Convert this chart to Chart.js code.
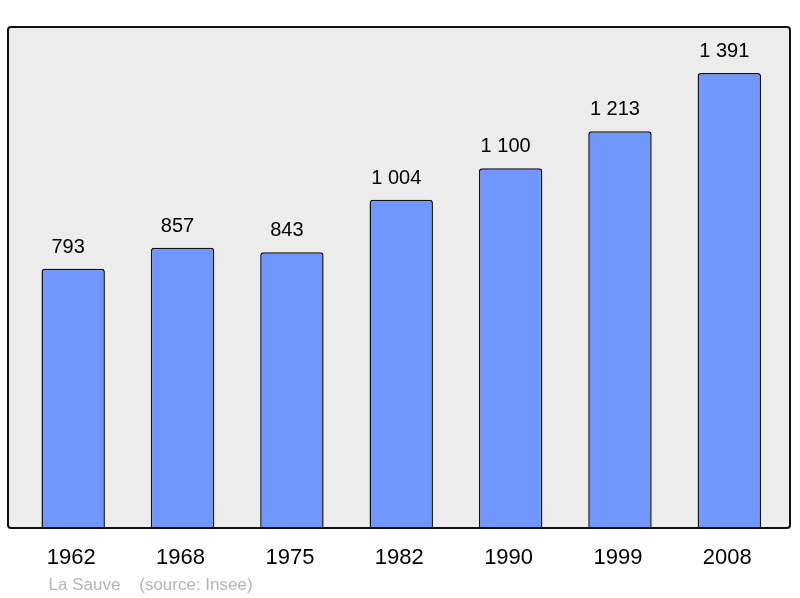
<!DOCTYPE html>
<html>
<head>
<meta charset="utf-8">
<script src="https://cdn.jsdelivr.net/npm/chart.js@4/dist/chart.umd.min.js"></script>
<style>
html,body{margin:0;padding:0;background:#fff;}
#wrap{width:800px;height:598px;position:relative;}
</style>
</head>
<body>
<div id="wrap"><canvas id="c" width="800" height="598"></canvas></div>
<script>
const years = ['1962','1968','1975','1982','1990','1999','2008'];
const population = [793, 857, 843, 1004, 1100, 1213, 1391];
const footerText = 'La Sauve    (source: Insee)';
const yMax = 1532;

function fmt(v){ return String(v).replace(/\B(?=(\d{3})+(?!\d))/g, ' '); }

function roundRect(ctx, x, y, w, h, r){
  ctx.beginPath();
  ctx.moveTo(x + r, y);
  ctx.lineTo(x + w - r, y);
  ctx.quadraticCurveTo(x + w, y, x + w, y + r);
  ctx.lineTo(x + w, y + h - r);
  ctx.quadraticCurveTo(x + w, y + h, x + w - r, y + h);
  ctx.lineTo(x + r, y + h);
  ctx.quadraticCurveTo(x, y + h, x, y + h - r);
  ctx.lineTo(x, y + r);
  ctx.quadraticCurveTo(x, y, x + r, y);
  ctx.closePath();
}

const framePlugin = {
  id: 'frame',
  beforeDatasetsDraw(chart){
    const {ctx, chartArea:a} = chart;
    ctx.save();
    roundRect(ctx, a.left - 10.5, a.top, a.right - a.left + 16.5, a.bottom - a.top, 3);
    ctx.fillStyle = '#ececec';
    ctx.fill();
    ctx.restore();
  },
  afterDatasetsDraw(chart){
    const {ctx, chartArea:a} = chart;
    ctx.save();
    roundRect(ctx, a.left - 10.5, a.top, a.right - a.left + 16.5, a.bottom - a.top, 3);
    ctx.lineWidth = 2;
    ctx.strokeStyle = '#111';
    ctx.stroke();
    // value labels
    const meta = chart.getDatasetMeta(0);
    ctx.fillStyle = '#000';
    ctx.font = '20px "Liberation Sans", Arial, sans-serif';
    ctx.textAlign = 'center';
    ctx.textBaseline = 'alphabetic';
    meta.data.forEach((bar, i) => {
      ctx.fillText(fmt(population[i]), bar.x - 5, bar.y - 16);
    });
    // category labels
    const xs = chart.scales.x;
    ctx.font = '22px "Liberation Sans", Arial, sans-serif';
    years.forEach((y, i) => {
      ctx.fillText(y, xs.getPixelForValue(i) - 2, a.bottom + 36);
    });
    // footer
    ctx.textAlign = 'left';
    ctx.fillStyle = '#b4b4b4';
    ctx.font = '17px "Liberation Sans", Arial, sans-serif';
    ctx.fillText(footerText, a.left + 30, a.bottom + 62);
    ctx.restore();
  }
};

new Chart(document.getElementById('c'), {
  type: 'bar',
  data: {
    labels: years,
    datasets: [{
      data: population,
      backgroundColor: '#7096ff',
      borderColor: '#111',
      borderWidth: 1.5,
      borderRadius: 3,
      borderSkipped: 'start',
      barPercentage: 0.58,
      categoryPercentage: 1
    }]
  },
  options: {
    responsive: false,
    animation: false,
    devicePixelRatio: 1,
    layout: { padding: { left: 18.5, right: 16, top: 27, bottom: 70 } },
    plugins: { legend: { display: false }, tooltip: { enabled: false }, title: { display: false } },
    scales: {
      x: { display: false },
      y: { display: false, min: 0, max: yMax }
    }
  },
  plugins: [framePlugin]
});
</script>
</body>
</html>
